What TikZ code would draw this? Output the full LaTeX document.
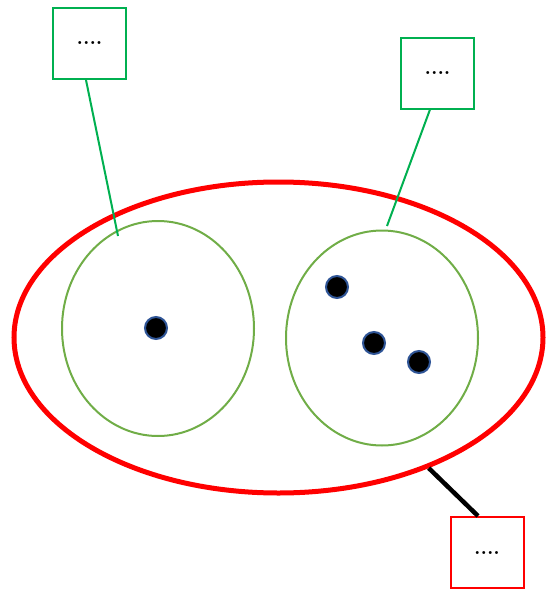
\documentclass[tikz,border=0pt]{standalone}
\usetikzlibrary{shapes.geometric,calc}
\definecolor{boxgreen}{RGB}{0,176,80}
\definecolor{setgreen}{RGB}{112,173,71}
\definecolor{dotblue}{RGB}{47,85,151}
\tikzset{
  gbox/.style={draw=boxgreen,line width=2pt,minimum width=73pt,minimum height=71pt,inner sep=0pt,font=\huge\bfseries},
  rbox/.style={draw=red,line width=2pt,minimum width=73pt,minimum height=71pt,inner sep=0pt,font=\huge\bfseries},
  bigset/.style={draw=red,line width=5pt,ellipse,minimum width=529pt,minimum height=311pt,inner sep=0pt},
  subset/.style={draw=setgreen,line width=2pt,ellipse,minimum width=192pt,minimum height=215pt,inner sep=0pt},
  elem/.style={draw=dotblue,fill=black,line width=2pt,circle,minimum size=22pt,inner sep=0pt},
  glink/.style={draw=boxgreen,line width=2pt},
  blink/.style={draw=black,line width=4.5pt}
}
\begin{document}
\begin{tikzpicture}[x=1pt,y=-1pt]
\useasboundingbox (0,0) rectangle (548,589);
\node[bigset] (E) at (278.5,337.5) {};
\node[subset] (A) at (158,328.5) {};
\node[subset] (B) at (382,338) {};
\node[elem] (a1) at (156,328) {};
\node[elem] (b1) at (337,287) {};
\node[elem] (b2) at (374,343) {};
\node[elem] (b3) at (419,362) {};
\node[gbox] (g1) at (89.5,43.5) {....};
\node[gbox] (g2) at (437.5,73) {....};
\node[rbox] (r1) at (487,552.5) {....};
\coordinate (ga) at (118,236);
\coordinate (gb) at (387,226);
\draw[glink] ($(g1.south)+(-3.5,0)$) -- (ga);
\draw[glink] ($(g2.south)+(-7.5,0)$) -- (gb);
\draw[blink] (E.-41) -- ($(r1.north)+(-9,0)$);
\end{tikzpicture}
\end{document}
